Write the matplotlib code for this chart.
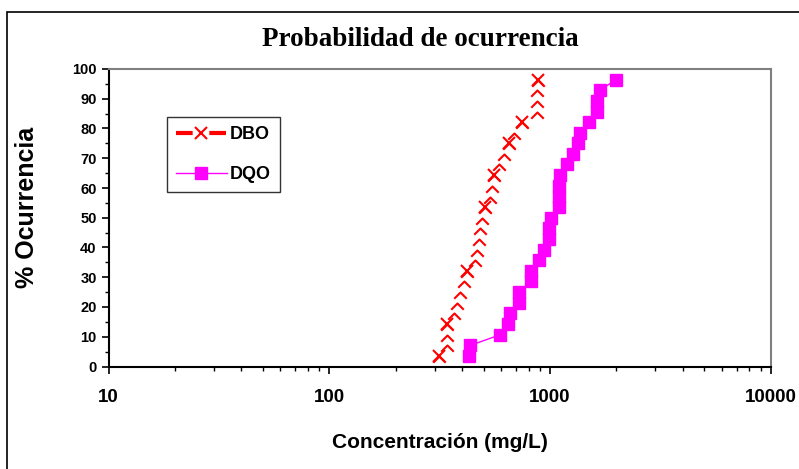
import matplotlib

matplotlib.use("Agg")
import matplotlib.pyplot as plt
from matplotlib.lines import Line2D
from matplotlib.patches import Rectangle
from matplotlib.path import Path
from matplotlib.ticker import FixedLocator, NullFormatter

# valores
pct_dbo = [3.6, 7.1, 10.7, 14.3, 17.9, 21.4, 25.0, 28.6, 32.1, 35.7, 39.3, 42.9, 46.4, 50.0,
           53.6, 57.1, 60.7, 64.3, 67.9, 71.4, 75.0, 78.6, 82.1, 85.7, 89.3, 92.9, 96.4]
conc_dbo = [313, 342, 342, 342, 366, 380, 393, 406, 421, 459, 468, 475, 484, 492,
            510, 537, 547, 556, 586, 617, 650, 685, 748, 875, 875, 875, 881]

pct_dqo = [3.6, 7.1, 10.7, 14.3, 17.9, 21.4, 25.0, 28.6, 32.1, 35.7, 39.3, 42.9, 46.4, 50.0,
           53.6, 57.1, 60.7, 64.3, 67.9, 71.4, 75.0, 78.6, 82.1, 85.7, 89.3, 92.9, 96.4]
conc_dqo = [428, 436, 596, 644, 657, 722, 722, 824, 824, 890, 937, 995, 995, 1016,
            1097, 1097, 1097, 1116, 1197, 1268, 1342, 1365, 1500, 1625, 1625, 1684, 1995]

x_ticks = [10, 100, 1000, 10000]
y_ticks = list(range(0, 101, 10))

# puntos del DBO que se ven con la cruz completa
full_x = [0, 3, 8, 14, 17, 20, 22, 26]

chevron = Path([(-0.5, -0.5), (0, 0), (0.5, -0.5)], [Path.MOVETO, Path.LINETO, Path.LINETO])

fig = plt.figure(figsize=(7.99, 4.69), dpi=100)
fig.patches.append(Rectangle((7 / 799, -0.1), 1.2, 1 - 12 / 469 + 0.1, transform=fig.transFigure,
                             fill=False, edgecolor="black", linewidth=1.2))

ax = fig.add_axes([108.5 / 799, 1 - 366.5 / 469, (770.7 - 108.5) / 799, (366.5 - 69) / 469])
ax.set_xscale("log")
ax.set_xlim(10, 10000)
ax.set_ylim(0, 100)

ax.plot(conc_dqo, pct_dqo, color="#FF00FF", linewidth=1.0, marker="s", markersize=8,
        markeredgecolor="#FF00FF", markerfacecolor="#FF00FF", zorder=3)

ax.plot(conc_dbo, pct_dbo, linestyle="none", marker=chevron, markersize=9,
        markeredgecolor="#FF0000", markeredgewidth=1.5, fillstyle="none", zorder=4)
ax.plot([conc_dbo[i] for i in full_x], [pct_dbo[i] for i in full_x], linestyle="none",
        marker="x", markersize=8, markeredgecolor="#FF0000", markeredgewidth=1.5, zorder=5)

ax.xaxis.set_major_locator(FixedLocator(x_ticks))
ax.set_xticklabels([str(v) for v in x_ticks])
minor = [m * 10 ** e for e in range(1, 4) for m in range(2, 10)]
ax.xaxis.set_minor_locator(FixedLocator(minor))
ax.xaxis.set_minor_formatter(NullFormatter())
ax.set_yticks(y_ticks)
ax.set_yticks(range(5, 100, 10), minor=True)

ax.tick_params(axis="both", which="major", direction="out", length=5, width=1.2, color="black")
ax.tick_params(axis="both", which="minor", direction="out", length=3, width=1.0, color="black")
ax.tick_params(axis="x", which="major", pad=11)
for lab in ax.get_xticklabels():
    lab.set_fontfamily("Liberation Sans")
    lab.set_fontweight("bold")
    lab.set_fontsize(13.5)
for lab in ax.get_yticklabels():
    lab.set_fontfamily("Liberation Sans")
    lab.set_fontweight("bold")
    lab.set_fontsize(10.5)

ax.spines["left"].set_linewidth(1.5)
ax.spines["bottom"].set_linewidth(1.5)
ax.spines["top"].set_color("#808080")
ax.spines["right"].set_color("#808080")
ax.spines["top"].set_linewidth(1.5)
ax.spines["right"].set_linewidth(1.5)

ax.set_xlabel("Concentración (mg/L)", fontfamily="Liberation Sans", fontweight="bold",
              fontsize=15)
ax.xaxis.set_label_coords(0.5, -0.225)
ax.set_ylabel("% Ocurrencia", fontfamily="Liberation Sans", fontweight="bold", fontsize=18)
ax.yaxis.set_label_coords(-0.105, 0.535)
fig.text(0.526, 1 - 40 / 469, "Probabilidad de ocurrencia",
         ha="center", va="center", fontfamily="Liberation Serif", fontweight="bold", fontsize=19.5)

handles = [
    Line2D([], [], color="#FF0000", linewidth=3, linestyle=(0, (4, 4)), marker="x",
           markersize=9, markeredgewidth=1.5),
    Line2D([], [], color="#FF00FF", linewidth=1.0, marker="s", markersize=8),
]
leg = ax.legend(handles, ["DBO", "DQO"], loc="upper left", bbox_to_anchor=(0.0883, 0.8387),
                borderaxespad=0, frameon=True, fancybox=False, edgecolor="black",
                handlelength=2.8, labelspacing=1.28, borderpad=0.5, handletextpad=0.2,
                prop={"family": "Liberation Sans", "weight": "bold", "size": 13})
leg.get_frame().set_linewidth(1.0)

fig.savefig("out.png", dpi=100)
